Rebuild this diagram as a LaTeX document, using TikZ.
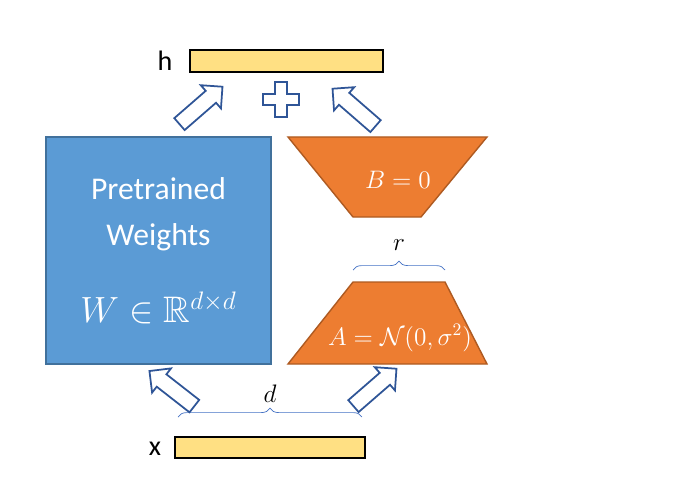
\documentclass[tikz,border=0pt]{standalone}
\usepackage{fontspec}
\usepackage{amsmath}
\usepackage{amssymb}
\setmainfont{Carlito}
\usetikzlibrary{shapes.arrows,decorations.pathreplacing}

\definecolor{barfill}{HTML}{FFE083}
\definecolor{wblue}{HTML}{5B9BD5}
\definecolor{wedge}{HTML}{41719C}
\definecolor{lorange}{HTML}{ED7D31}
\definecolor{ledge}{HTML}{AE5A21}
\definecolor{arrowc}{HTML}{2F5597}
\definecolor{bracec}{HTML}{4472C4}

\tikzset{
  bar/.style={draw=black,fill=barfill,line width=0.8pt},
  flow/.style={single arrow,draw=arrowc,fill=white,line width=1pt,inner xsep=0pt,inner ysep=0.14cm,
    minimum width=0.58cm,minimum height=1.14cm,single arrow head extend=0.15cm},
  lbl/.style={font=\fontsize{14}{16}\selectfont},
  brc/.style={draw=bracec,decorate,decoration={brace,amplitude=5pt}}
}

\begin{document}
\begin{tikzpicture}[x=0.02cm,y=-0.02cm]
  \useasboundingbox (0,0) rectangle (680,500);

  % input and output
  \node[bar,minimum width=3.86cm,minimum height=0.44cm] (hbar) at (286.5,61) {};
  \node[bar,minimum width=3.8cm,minimum height=0.42cm] (xbar) at (270,447.5) {};
  \node[lbl,font=\fontsize{16}{18}\selectfont] (h) at (165,61) {h};
  \node[lbl,font=\fontsize{16}{18}\selectfont] (x) at (155,449) {x};

  % pretrained weights
  \node[draw=wedge,fill=wblue,line width=0.8pt,minimum width=4.5cm,minimum height=4.54cm] (W) at (158.5,250.5) {};
  \node[text=white,align=center,font=\fontsize{18}{26}\selectfont] (Wtxt) at (158.5,214)
        {Pretrained\\Weights};
  \node[text=white,font=\fontsize{21}{24}\selectfont] (Wmath) at (158.5,308) {$W\in\mathbb{R}^{d\times d}$};

  % low-rank factors
  \draw[draw=ledge,fill=lorange,line width=0.8pt]
    (288,137) -- (487,137) -- (421,217) -- (353,217) -- cycle;
  \draw[draw=ledge,fill=lorange,line width=0.8pt]
    (353,282) -- (445,282) -- (487,364) -- (288,364) -- cycle;
  \node[lbl,text=white] (B) at (398,180) {$B=0$};
  \node[lbl,text=white] (A) at (400,338) {$A=\mathcal{N}(0,\sigma^2)$};

  % dimensions
  \coordinate (r1) at (353,270);
  \coordinate (r2) at (445,270);
  \coordinate (d1) at (178,417);
  \coordinate (d2) at (362,417);
  \draw[brc] (r1) -- (r2);
  \draw[brc] (d1) -- (d2);
  \node[lbl] (r) at (399,245) {$r$};
  \node[lbl] (d) at (270,394) {$d$};

  % flows
  \node[flow,rotate=142] (f1) at (175,391) {};
  \node[flow,rotate=41] (f2) at (372,390) {};
  \node[flow,rotate=41] (f3) at (198,108) {};
  \node[flow,rotate=139] (f4) at (357,110) {};

  % sum
  \draw[draw=arrowc,fill=white,line width=1pt]
    (275,82) -- (287,82) -- (287,94) -- (299,94) -- (299,105) -- (287,105) -- (287,117)
    -- (275,117) -- (275,105) -- (263,105) -- (263,94) -- (275,94) -- cycle;
\end{tikzpicture}
\end{document}
